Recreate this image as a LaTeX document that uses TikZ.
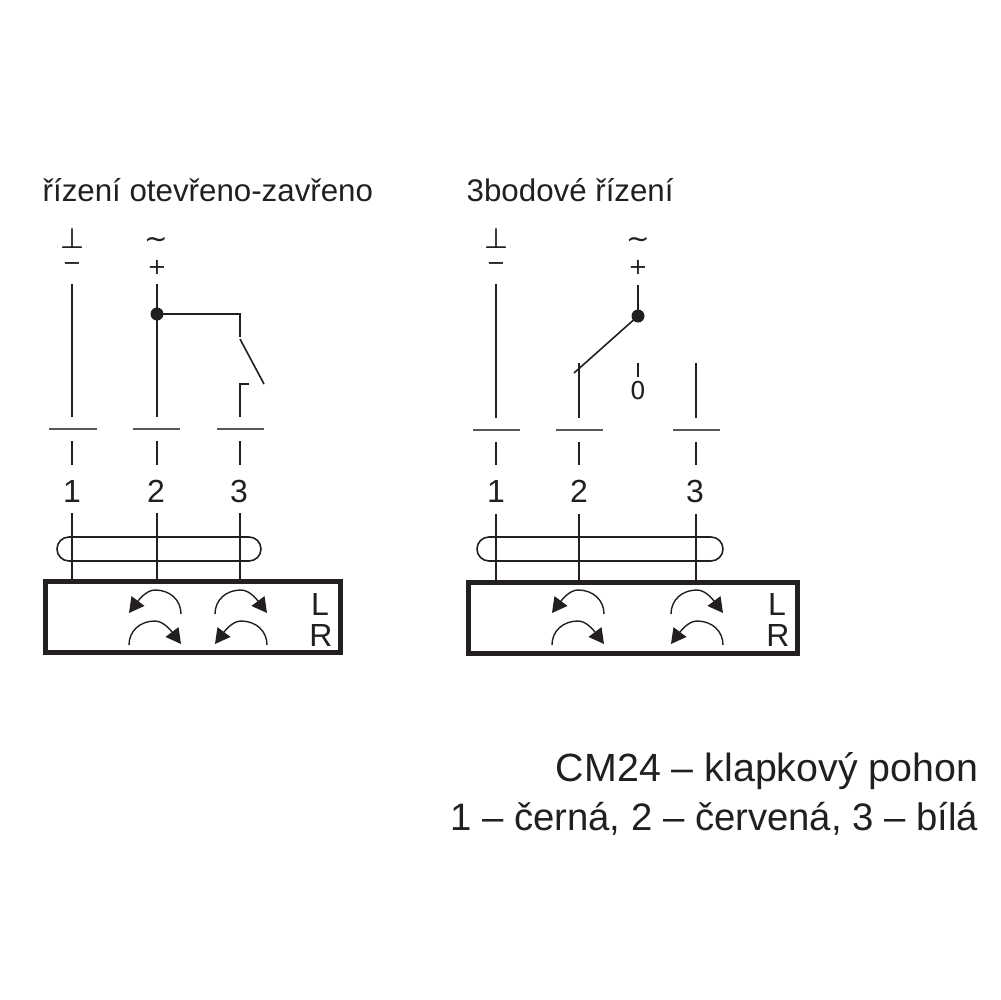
\documentclass[tikz,border=0pt]{standalone}
\usepackage{fontspec}
\setmainfont{Liberation Sans}
\newfontfamily\symfont{DejaVu Sans}
\usetikzlibrary{arrows.meta}
\definecolor{ink}{HTML}{231F20}
\tikzset{
    wire/.style={draw=ink, line width=0.22mm},
    thinwire/.style={draw=ink, line width=0.16mm},
    bar/.style={draw=ink!75, line width=0.28mm},
    housing/.style={draw=ink, line width=0.5mm},
    loopband/.style={draw=ink, line width=0.16mm, rounded corners=1.2mm},
    turn/.style={draw=ink, line width=0.14mm, -{Triangle[length=1.5mm,width=1.6mm]}},
    contact/.style={circle, fill=ink, inner sep=0pt, minimum size=1.3mm},
    title/.style={text=ink, font=\fontsize{8.9}{11}\selectfont, anchor=base west, inner sep=0pt},
    note/.style={text=ink, font=\fontsize{10.9}{13}\selectfont, anchor=base east, inner sep=0pt},
    num/.style={text=ink, font=\fontsize{9.1}{11}\selectfont, inner sep=0pt},
    sym/.style={text=ink, font=\fontsize{8}{9}\symfont, inner sep=0pt},
    smallsym/.style={text=ink, font=\fontsize{6.4}{7}\symfont, inner sep=0pt},
    turnleft/.pic={\draw[turn] (52,0) .. controls (52,-14) and (41,-24) .. (26,-24) .. controls (17,-24) and (9,-13) .. (0,-1);},
    turnright/.pic={\draw[turn] (0,0) .. controls (0,-14) and (11,-24) .. (26,-24) .. controls (35,-24) and (43,-13) .. (52,-1);}
}
\begin{document}
\begin{tikzpicture}[x=0.1mm, y=-0.1mm]
    \useasboundingbox (0,0) rectangle (1000,1000);
    % left diagram
    \node[title] (titleA) at (42,201) {řízení otevřeno-zavřeno};
    \node[sym] (gndA) at (72,239) {⊥};
    \node[smallsym] (minusA) at (72,266) {−};
    \node[sym] (acA) at (156,243) {∼};
    \node[smallsym] (plusA) at (157,267) {+};
    \coordinate (a1t) at (72,284);
    \coordinate (a1b) at (72,417);
    \coordinate (a2t) at (157,284);
    \coordinate (a2b) at (157,417);
    \coordinate (a3c) at (240,314);
    \coordinate (a3s) at (240,337);
    \coordinate (a3o) at (264,384);
    \coordinate (a3h) at (249,384);
    \coordinate (a3k) at (240,384);
    \coordinate (a3b) at (240,417);
    \node[contact] (dotA) at (157,314) {};
    \draw[wire] (a1t) -- (a1b);
    \draw[wire] (a2t) -- (a2b);
    \draw[wire] (dotA.center) -- (a3c) -- (a3s);
    \draw[thinwire] (240,339) -- (a3o);
    \draw[wire] (a3h) -- (a3k) -- (a3b);
    \draw[bar] (49,429) -- (97,429);
    \draw[bar] (133,429) -- (180,429);
    \draw[bar] (217,429) -- (264,429);
    \draw[wire] (72,441) -- (72,465);
    \draw[wire] (157,441) -- (157,465);
    \draw[wire] (240,441) -- (240,465);
    \node[num] (numA1) at (72,491) {1};
    \node[num] (numA2) at (156,491) {2};
    \node[num] (numA3) at (239,491) {3};
    \draw[loopband] (57,537) rectangle (261,561);
    \draw[wire] (72,513) -- (72,580);
    \draw[wire] (157,513) -- (157,580);
    \draw[wire] (240,513) -- (240,580);
    \draw[housing] (45.5,581.5) rectangle (340.5,652.5);
    \pic at (129,614) {turnleft};
    \pic at (129,645) {turnright};
    \pic at (215,614) {turnright};
    \pic at (215,645) {turnleft};
    \node[num] (lblAL) at (320,604) {L};
    \node[num] (lblAR) at (321,635) {R};
    % right diagram
    \node[title] (titleB) at (466,201) {3bodové řízení};
    \node[sym] (gndB) at (496,239) {⊥};
    \node[smallsym] (minusB) at (496,266) {−};
    \node[sym] (acB) at (638,243) {∼};
    \node[smallsym] (plusB) at (638,267) {+};
    \coordinate (b1t) at (496,284);
    \coordinate (b1b) at (496,418);
    \coordinate (b2t) at (579,363);
    \coordinate (b2b) at (579,418);
    \coordinate (b3t) at (696,363);
    \coordinate (b3b) at (696,418);
    \coordinate (b0t) at (638,285);
    \coordinate (b0a) at (638,363);
    \coordinate (b0b) at (638,377);
    \coordinate (b2s) at (574,373);
    \node[contact] (dotB) at (638,316) {};
    \draw[wire] (b1t) -- (b1b);
    \draw[wire] (b2t) -- (b2b);
    \draw[wire] (b3t) -- (b3b);
    \draw[wire] (b0t) -- (dotB.center);
    \draw[thinwire] (dotB.center) -- (b2s);
    \draw[wire] (b0a) -- (b0b);
    \node[sym] (zeroB) at (638,391) {\fontsize{7}{8}\selectfont 0};
    \draw[bar] (473,430) -- (520,430);
    \draw[bar] (556,430) -- (603,430);
    \draw[bar] (673,430) -- (720,430);
    \draw[wire] (496,442) -- (496,465);
    \draw[wire] (579,442) -- (579,465);
    \draw[wire] (696,442) -- (696,465);
    \node[num] (numB1) at (496,491) {1};
    \node[num] (numB2) at (579,491) {2};
    \node[num] (numB3) at (695,491) {3};
    \draw[loopband] (477,537) rectangle (723,561);
    \draw[wire] (496,514) -- (496,581);
    \draw[wire] (579,514) -- (579,581);
    \draw[wire] (696,514) -- (696,581);
    \draw[housing] (468.5,582.5) rectangle (797.5,653.5);
    \pic at (552,614) {turnleft};
    \pic at (552,645) {turnright};
    \pic at (671,614) {turnright};
    \pic at (671,645) {turnleft};
    \node[num] (lblBL) at (777,604) {L};
    \node[num] (lblBR) at (778,635) {R};
    % legend
    \node[note, font=\fontsize{11.2}{13}\selectfont] (noteA) at (979,781) {CM24 – klapkový pohon};
    \node[note] (noteB) at (979,830) {1 – černá, 2 – červená, 3 – bílá};
\end{tikzpicture}
\end{document}
